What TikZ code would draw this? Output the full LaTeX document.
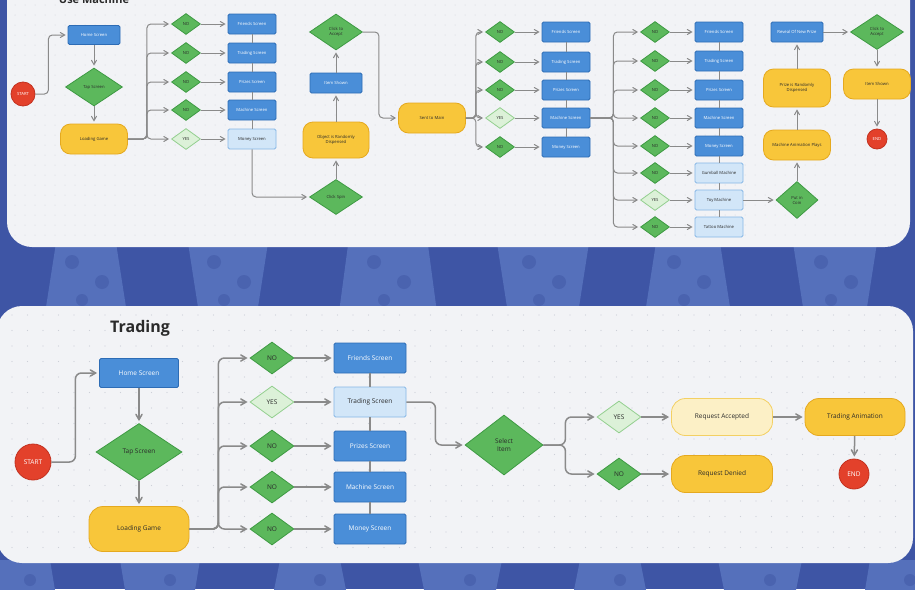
\documentclass[tikz,border=0pt]{standalone}
\usepackage{fontspec}
\setmainfont{Open Sans}
\usetikzlibrary{arrows,shapes.geometric}
\definecolor{bgblue}{HTML}{3E55A5}
\definecolor{conelight}{HTML}{5570BB}
\definecolor{conedot}{HTML}{4A63AF}
\definecolor{panelfill}{HTML}{F2F3F6}
\definecolor{griddot}{HTML}{CDD0D8}
\definecolor{boxfill}{HTML}{4A8ED8}
\definecolor{boxline}{HTML}{2D6CB5}
\definecolor{lboxfill}{HTML}{D2E6F8}
\definecolor{lboxline}{HTML}{86B7E6}
\definecolor{decfill}{HTML}{5CB85C}
\definecolor{decline}{HTML}{3E9A43}
\definecolor{ldecfill}{HTML}{DCF1D8}
\definecolor{ldecline}{HTML}{93CF8F}
\definecolor{pillfill}{HTML}{F8C63A}
\definecolor{pillline}{HTML}{E5A91F}
\definecolor{lpillfill}{HTML}{FCF0C6}
\definecolor{lpillline}{HTML}{F3D063}
\definecolor{termfill}{HTML}{E3412B}
\definecolor{termline}{HTML}{C2311F}
\definecolor{flowgray}{HTML}{8A8A8A}
\definecolor{ink}{HTML}{2A2A2A}
\tikzset{
  box/.style={rectangle,rounded corners=1.5pt,draw=boxline,fill=boxfill,text=white,line width=.8pt,inner sep=1pt},
  lbox/.style={box,draw=lboxline,fill=lboxfill,text=ink},
  dec/.style={diamond,draw=decline,fill=decfill,text=ink,line width=.8pt,inner sep=0pt,align=center},
  ldec/.style={dec,draw=ldecline,fill=ldecfill},
  pill/.style={rectangle,rounded corners=10pt,draw=pillline,fill=pillfill,text=ink,line width=.8pt,align=center},
  lpill/.style={pill,draw=lpillline,fill=lpillfill},
  term/.style={circle,draw=termline,fill=termfill,text=white,line width=.8pt,inner sep=0pt},
  flow/.style={draw=flowgray,line width=1.5pt,-angle 60,rounded corners=6pt,shorten >=2pt},
  bar/.style={draw=flowgray,line width=1.5pt}
}
\begin{document}
\begin{tikzpicture}[x=1pt,y=-1pt]
\useasboundingbox (0,0) rectangle (915,589);
\clip (0,0) rectangle (915,589);
\fill[bgblue] (0,0) rectangle (915,589);
\foreach \c/\a/\b in {86/28/42,228/42/28,388/38/50,543/48/34,688/30/44,835/44/30}{
  \fill[conelight] (\c-\a,230) -- (\c+\a,230) -- (\c+\b,320) -- (\c-\b,320) -- cycle;
  \fill[conedot] (\c-14,262) circle (7) (\c+16,282) circle (7) (\c-4,300) circle (6);
}
\foreach \c/\a/\b in {20/30/40,160/40/30,310/30/42,460/42/30,610/30/42,760/42/30,900/30/40}{
  \fill[conelight] (\c-\a,560) -- (\c+\a,560) -- (\c+\b,620) -- (\c-\b,620) -- cycle;
  \fill[conedot] (\c+10,580) circle (6);
}
\fill[panelfill,rounded corners=25pt] (7,-30) rectangle (910,247);
\fill[panelfill,rounded corners=25pt] (-3,306) rectangle (913,563);
\foreach \x in {15,25,...,900}
  \foreach \y in {5,15,...,240}
    \fill[griddot] (\x,\y) circle (.5);
\foreach \x in {12,27.5,...,905}
  \foreach \y in {315,330.5,...,556}
    \fill[griddot] (\x,\y) circle (.7);

\begin{scope}[font=\fontsize{4.2}{5}\selectfont,
  box/.append style={minimum width=48pt,minimum height=20pt},
  dec/.append style={minimum width=29pt,minimum height=21pt},
  pill/.append style={minimum width=67pt,minimum height=30pt},
  flow/.append style={line width=1pt,rounded corners=4pt},
  bar/.append style={line width=1pt}]
\node[font=\fontsize{11}{12}\selectfont\bfseries,text=ink,anchor=base] (utitle) at (94,4) {Use Machine};
\node[term,minimum size=24pt] (ustart) at (23,94) {START};
\node[box,minimum width=52pt,minimum height=19pt] (uhome) at (94,35) {Home Screen};
\node[dec,minimum width=57pt,minimum height=38pt] (utap) at (94,87) {Tap Screen};
\node[pill] (uload) at (94,139) {Loading Game};
\foreach \i/\y/\t in {1/24/Friends Screen,2/53/Trading Screen,3/82/Prizes Screen,4/110/Machine Screen}{
  \node[dec] (ua\i) at (186,\y) {NO};
  \node[box] (ub\i) at (252,\y) {\t};
}
\node[ldec] (ua5) at (186,139) {YES};
\node[lbox] (ub5) at (252,139) {Money Screen};
\node[dec,minimum width=53pt,minimum height=35pt] (uspin) at (336,197) {Click Spin};
\node[pill,minimum width=66pt,minimum height=36pt] (uobj) at (336,140) {Object is Randomly\\Dispensed};
\node[box,minimum width=52pt] (uitem) at (336,83) {Item Shown};
\node[dec,minimum width=53pt,minimum height=36pt] (uacc) at (336,32) {Click to\\Accept};
\node[pill] (umain) at (432,118) {Sent to Main};
\foreach \i/\y/\t in {1/32/Friends Screen,2/62/Trading Screen,3/90/Prizes Screen,5/147/Money Screen}{
  \node[dec] (ue\i) at (500,\y) {NO};
  \node[box] (uf\i) at (566,\y) {\t};
}
\node[ldec] (ue4) at (500,118) {YES};
\node[box] (uf4) at (566,118) {Machine Screen};
\foreach \i/\y/\t in {1/32/Friends Screen,2/61/Trading Screen,3/90/Prizes Screen,4/118/Machine Screen,5/146/Money Screen}{
  \node[dec] (ug\i) at (655,\y) {NO};
  \node[box] (uh\i) at (719,\y) {\t};
}
\node[dec] (ug6) at (655,173) {NO};
\node[lbox,text=ink] (uh6) at (719,173) {Gumball Machine};
\node[ldec] (ug7) at (655,200) {YES};
\node[lbox] (uh7) at (719,200) {Toy Machine};
\node[dec] (ug8) at (655,227) {NO};
\node[lbox] (uh8) at (719,227) {Tattoo Machine};
\node[dec,minimum width=42pt,minimum height=37pt] (ucoin) at (797,200) {Put in\\Coin};
\node[pill] (uanim) at (797,145) {Machine Animation Plays};
\node[pill,minimum height=38pt] (uprize) at (797,88) {Prize is Randomly\\Dispensed};
\node[box,minimum width=52pt] (ureveal) at (797,32) {Reveal Of New Prize};
\node[dec,minimum width=53pt,minimum height=35pt] (uacc2) at (877,32) {Click to\\Accept};
\node[pill] (uitem2) at (877,84) {Item Shown};
\node[term,minimum size=20pt] (uend) at (877,139) {END};

\draw[flow] (ustart.east) -- ++(13,0) |- (uhome.west);
\draw[flow] (uhome) -- (utap);
\draw[flow] (utap) -- (uload);
\foreach \i in {1,...,5}{
  \draw[flow] (uload.east) -- ++(19,0) |- (ua\i.west);
  \draw[flow] (ua\i) -- (ub\i);
  \draw[flow] (umain.east) -- ++(10,0) |- (ue\i.west);
  \draw[flow] (ue\i) -- (uf\i);
}
\foreach \i/\j in {1/2,2/3,3/4,4/5}{
  \draw[bar] (ub\i) -- (ub\j);
  \draw[bar] (uf\i) -- (uf\j);
}
\foreach \i in {1,...,8}{
  \draw[flow] (uf4.east) -- ++(23,0) |- (ug\i.west);
  \draw[flow] (ug\i) -- (uh\i);
}
\foreach \i/\j in {1/2,2/3,3/4,4/5,5/6,6/7,7/8}
  \draw[bar] (uh\i) -- (uh\j);
\draw[flow] (ub5.south) |- (uspin.west);
\draw[flow] (uspin) -- (uobj);
\draw[flow] (uobj) -- (uitem);
\draw[flow] (uitem) -- (uacc);
\draw[flow] (uacc.east) -- ++(16,0) |- (umain.west);
\draw[flow] (uh7) -- (ucoin);
\draw[flow] (ucoin) -- (uanim);
\draw[flow] (uanim) -- (uprize);
\draw[flow] (uprize) -- (ureveal);
\draw[flow] (ureveal) -- (uacc2);
\draw[flow] (uacc2) -- (uitem2);
\draw[flow] (uitem2) -- (uend);
\end{scope}

\begin{scope}[font=\fontsize{6.5}{7.5}\selectfont,
  box/.append style={minimum width=72pt,minimum height=30pt},
  dec/.append style={minimum width=44pt,minimum height=32pt},
  pill/.append style={minimum width=101pt,minimum height=37pt,rounded corners=14pt}]
\node[font=\fontsize{16}{18}\selectfont\bfseries,text=ink,anchor=base] (ttitle) at (140,332) {Trading};
\node[term,minimum size=36pt] (tstart) at (33,462) {START};
\node[box,minimum width=79pt,minimum height=29pt] (thome) at (139,373) {Home Screen};
\node[dec,minimum width=86pt,minimum height=57pt] (ttap) at (139,452) {Tap Screen};
\node[pill,minimum width=100pt,minimum height=45pt] (tload) at (139,529) {Loading Game};
\foreach \i/\y/\t in {1/358/Friends Screen,3/446/Prizes Screen,4/487/Machine Screen,5/529/Money Screen}{
  \node[dec] (tc\i) at (272,\y) {NO};
  \node[box] (td\i) at (370,\y) {\t};
}
\node[ldec] (tc2) at (272,402) {YES};
\node[lbox] (td2) at (370,402) {Trading Screen};
\node[dec,minimum width=78pt,minimum height=60pt] (tsel) at (504,445) {Select\\Item};
\node[ldec] (tyes) at (619,417) {YES};
\node[dec] (tno) at (619,474) {NO};
\node[lpill] (tacc) at (722,417) {Request Accepted};
\node[pill] (tden) at (722,474) {Request Denied};
\node[pill,minimum width=100pt] (tanim) at (855,417) {Trading Animation};
\node[term,minimum size=30pt] (tend) at (854,474) {END};

\draw[flow] (tstart.east) -- ++(24,0) |- (thome.west);
\draw[flow] (thome) -- (ttap);
\draw[flow] (ttap) -- (tload);
\foreach \i in {1,...,5}{
  \draw[flow] (tload.east) -- ++(29,0) |- (tc\i.west);
  \draw[flow] (tc\i) -- (td\i);
}
\foreach \i/\j in {1/2,2/3,3/4,4/5}
  \draw[bar] (td\i) -- (td\j);
\draw[flow] (td2.east) -- ++(29,0) |- (tsel.west);
\draw[flow] (tsel.east) -- ++(22,0) |- (tyes.west);
\draw[flow] (tsel.east) -- ++(22,0) |- (tno.west);
\draw[flow] (tyes) -- (tacc);
\draw[flow] (tno) -- (tden);
\draw[flow] (tacc) -- (tanim);
\draw[flow] (tanim) -- (tend);
\end{scope}
\end{tikzpicture}
\end{document}
